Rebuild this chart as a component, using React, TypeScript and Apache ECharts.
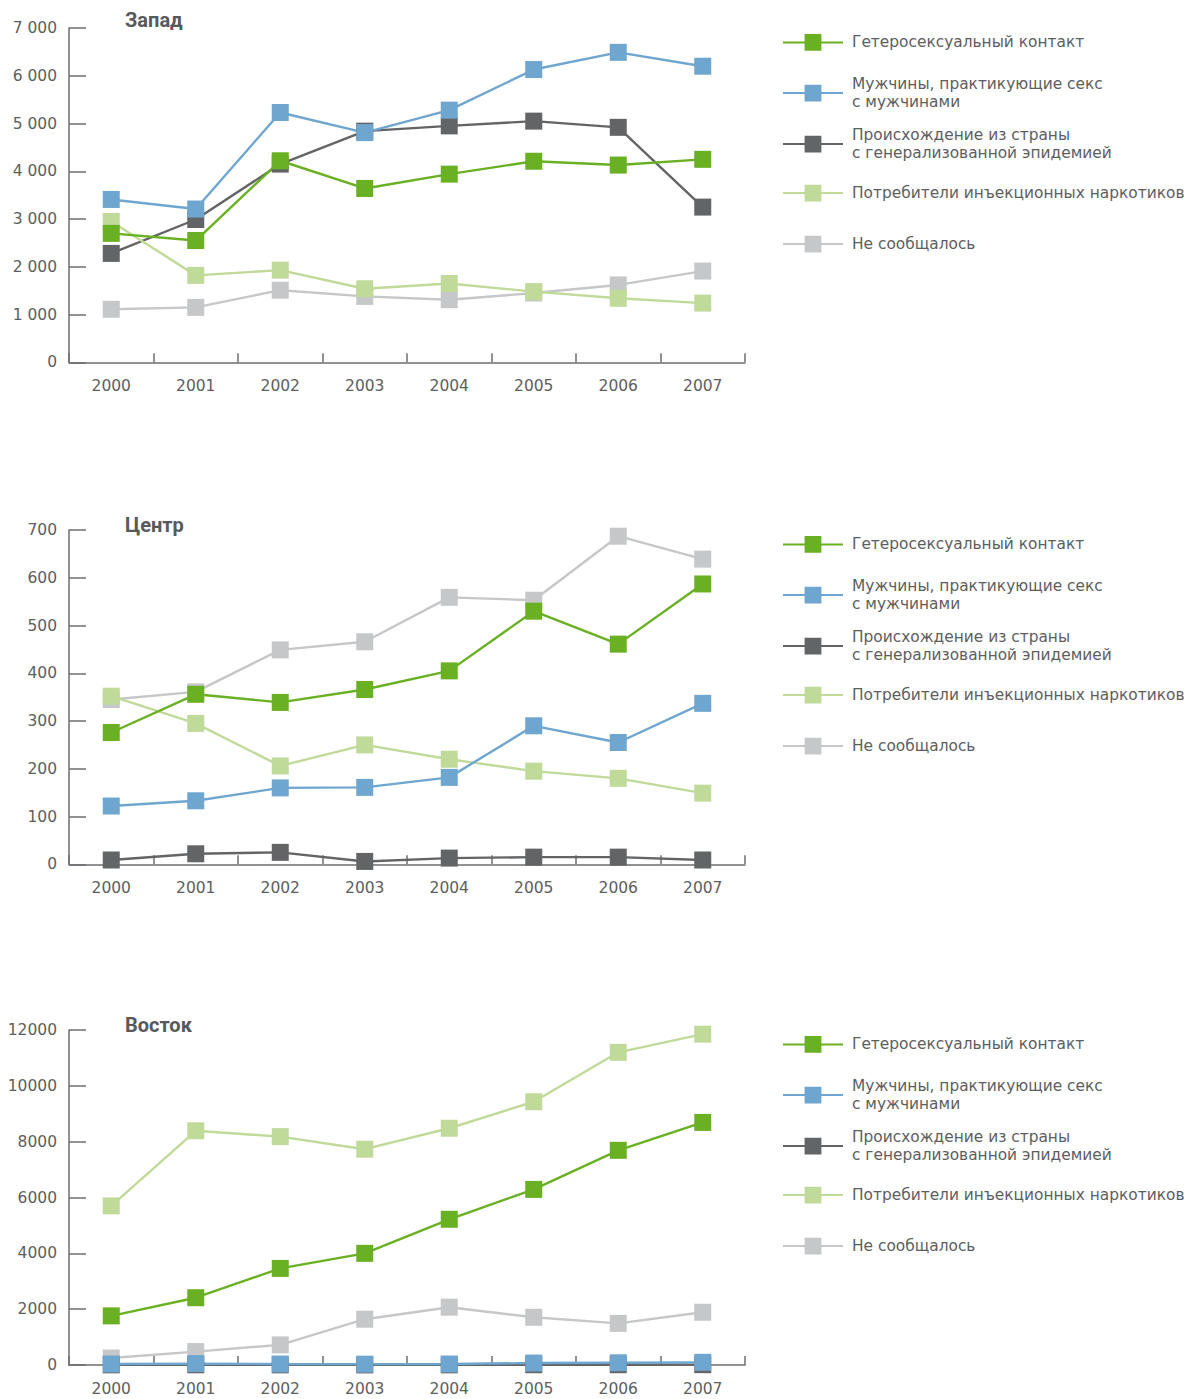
import React, { useEffect, useRef } from "react";
import * as echarts from "echarts";

const years = ["2000", "2001", "2002", "2003", "2004", "2005", "2006", "2007"];

const seriesNames = [
  "Гетеросексуальный контакт",
  "Мужчины, практикующие секс с мужчинами",
  "Происхождение из страны с генерализованной эпидемией",
  "Потребители инъекционных наркотиков",
  "Не сообщалось",
];
const legendLabels = [
  "Гетеросексуальный контакт",
  "Мужчины, практикующие секс\nс мужчинами",
  "Происхождение из страны\nс генерализованной эпидемией",
  "Потребители инъекционных наркотиков",
  "Не сообщалось",
];
const seriesColors = ["#69b023", "#6ea6cf", "#636466", "#c0da9a", "#c6c7c9"];

const panelTitles = ["Запад", "Центр", "Восток"];

// Запад
const westHetero = [2700, 2550, 4220, 3640, 3940, 4210, 4130, 4250];
const westMsm = [3410, 3210, 5230, 4810, 5280, 6130, 6490, 6200];
const westGen = [2280, 2990, 4150, 4840, 4950, 5050, 4920, 3250];
const westIdu = [2950, 1820, 1930, 1540, 1650, 1480, 1340, 1240];
const westNr = [1110, 1150, 1510, 1380, 1310, 1450, 1620, 1910];

// Центр
const centHetero = [276, 356, 339, 366, 405, 530, 461, 587];
const centMsm = [122, 133, 160, 161, 182, 290, 255, 337];
const centGen = [9, 22, 25, 6, 13, 15, 15, 9];
const centIdu = [352, 295, 206, 250, 220, 195, 180, 149];
const centNr = [345, 361, 449, 466, 559, 553, 687, 639];

// Восток
const eastHetero = [1760, 2410, 3460, 4000, 5220, 6290, 7690, 8690];
const eastMsm = [35, 50, 35, 30, 35, 70, 80, 95];
const eastGen = [5, 8, 5, 3, 5, 10, 10, 12];
const eastIdu = [5700, 8390, 8180, 7730, 8480, 9430, 11200, 11850];
const eastNr = [250, 480, 720, 1640, 2070, 1710, 1490, 1890];

const panelData = [
  [westHetero, westMsm, westGen, westIdu, westNr],
  [centHetero, centMsm, centGen, centIdu, centNr],
  [eastHetero, eastMsm, eastGen, eastIdu, eastNr],
];
const yMax = [7000, 700, 12000];
const yStep = [1000, 100, 2000];
const ySpaced = [true, false, false];

const TEXT = "#5d5e60";
const AXIS = "#6d6e71";
const FONT = "'DejaVu Sans', sans-serif";

export default function App() {
  const ref = useRef<HTMLDivElement>(null);
  useEffect(() => {
    if (!ref.current) return;
    const chart = echarts.init(ref.current, undefined, { renderer: "svg" });

    const gridTops = [28, 530, 1030];
    const gridH = [334.3, 334.3, 335];
    const titleTops = [9.5, 514.5, 1014.5];
    const legendCenters = [42.7, 93.3, 144.3, 193.3, 244.3];
    const offsets = [0, 502, 1002];

    const grids: any[] = [];
    const xAxes: any[] = [];
    const yAxes: any[] = [];
    const series: any[] = [];
    const legends: any[] = [];
    const titles: any[] = [];
    const drawOrder = [4, 2, 3, 0, 1];

    for (let p = 0; p < 3; p++) {
      grids.push({ left: 69, top: gridTops[p], width: 676, height: gridH[p] });
      xAxes.push({
        type: "category",
        gridIndex: p,
        data: years,
        boundaryGap: true,
        axisLine: { lineStyle: { color: AXIS, width: 1.5 } },
        axisTick: { show: true, inside: true, length: 9, interval: 0, lineStyle: { color: AXIS, width: 1.5 } },
        axisLabel: { margin: 16, color: TEXT, fontSize: 15.5, fontFamily: FONT, interval: 0 },
        splitLine: { show: false },
      });
      const spaced = ySpaced[p];
      yAxes.push({
        type: "value",
        gridIndex: p,
        min: 0,
        max: yMax[p],
        interval: yStep[p],
        axisLine: { show: true, lineStyle: { color: AXIS, width: 1.5 } },
        axisTick: { show: true, inside: true, length: 17, lineStyle: { color: AXIS, width: 1.5 } },
        axisLabel: {
          margin: 12,
          color: TEXT,
          fontSize: 15.5,
          fontFamily: FONT,
          formatter: (v: number) =>
            spaced ? String(v).replace(/\B(?=(\d{3})+(?!\d))/g, " ") : String(v),
        },
        splitLine: { show: false },
      });
      titles.push({
        text: panelTitles[p],
        left: 125,
        top: titleTops[p],
        padding: 0,
        textStyle: { fontFamily: "Roboto, sans-serif", fontWeight: "bold", fontSize: 20, color: "#58595b" },
      });
      for (const k of drawOrder) {
        series.push({
          type: "line",
          name: seriesNames[k],
          xAxisIndex: p,
          yAxisIndex: p,
          data: panelData[p][k],
          symbol: "rect",
          symbolSize: 17,
          showSymbol: true,
          color: seriesColors[k],
          lineStyle: { width: 2.4, color: seriesColors[k] },
          itemStyle: { color: seriesColors[k] },
          emphasis: { disabled: true },
        });
      }
      for (let k = 0; k < 5; k++) {
        const twoLine = legendLabels[k].includes("\n");
        legends.push({
          orient: "vertical",
          left: 782,
          top: offsets[p] + legendCenters[k] - (twoLine ? 19.7 : 10.5) + 1,
          padding: 0,
          itemWidth: 60,
          itemHeight: 21,
          selectedMode: false,
          data: [seriesNames[k]],
          formatter: () => legendLabels[k],
          textStyle: { fontFamily: FONT, fontSize: 15.4, color: TEXT, lineHeight: 18.5, padding: [0, 0, 0, 4] },
        });
      }
    }

    chart.setOption({
      animation: false,
      backgroundColor: "#ffffff",
      title: titles,
      grid: grids,
      xAxis: xAxes,
      yAxis: yAxes,
      legend: legends,
      series,
    });
    return () => chart.dispose();
  }, []);
  return (
    <div
      ref={ref}
      style={{ position: "absolute", left: 0, top: 0, width: 1199, height: 1399 }}
    />
  );
}
